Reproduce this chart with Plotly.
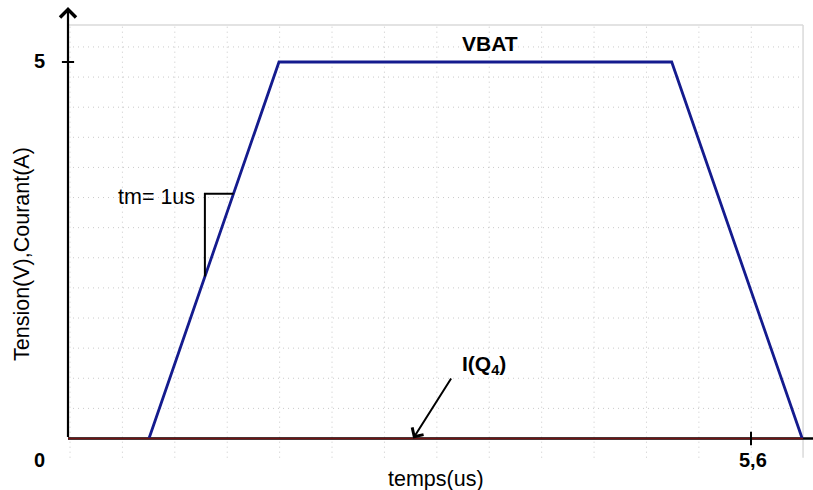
import numpy as np
import plotly.graph_objects as go

# --- data -------------------------------------------------------------
# VBAT trapezoid (time in us, voltage in V)
vbat_t = [0.664, 1.730, 4.950, 6.020]
vbat_v = [0.0, 5.0, 5.0, 0.0]

# I(Q4) stays at zero over the whole window
iq4_t = [0.0, 6.027]
iq4_i = [0.0, 0.0]

# rise-time marker levels on the rising edge (V)
tm_levels = [2.15, 3.25]

# labelled tick values
x_tick_vals = [5.6]
x_tick_text = ["5,6"]
y_tick_vals = [0, 5]
y_tick_text = ["0", "5"]

# --- frame ------------------------------------------------------------
X_RANGE = [-0.1066, 6.1085]
Y_RANGE = [-0.259, 5.797]
BOX_RIGHT = 6.027     # right edge of the grid box
BOX_TOP = 5.49        # top edge of the grid box
BOX_BOTTOM = -0.255
GRID_X = [0.0164 + 0.4297 * k for k in range(14)]
GRID_Y = [0.4 * k for k in range(1, 14)]

FONT = "Liberation Sans, Arial, sans-serif"
NAVY = "#141b8e"
GRID = "#c9c9c9"
DOTS = "1px,4px"

fig = go.Figure()

shapes = []
# dotted grid
for gx in GRID_X:
    shapes.append(dict(type="line", xref="x", yref="y", x0=gx, x1=gx,
                       y0=BOX_BOTTOM, y1=BOX_TOP, layer="below",
                       line=dict(color=GRID, width=1, dash=DOTS)))
for gy in GRID_Y:
    shapes.append(dict(type="line", xref="x", yref="y", x0=0, x1=BOX_RIGHT,
                       y0=gy, y1=gy, layer="below",
                       line=dict(color=GRID, width=1, dash=DOTS)))
# light box edges (top and right)
shapes.append(dict(type="line", xref="x", yref="y", x0=0, x1=BOX_RIGHT,
                   y0=BOX_TOP, y1=BOX_TOP, layer="below",
                   line=dict(color="#dadada", width=1.5)))
shapes.append(dict(type="line", xref="x", yref="y", x0=BOX_RIGHT, x1=BOX_RIGHT,
                   y0=BOX_BOTTOM, y1=BOX_TOP, layer="below",
                   line=dict(color="#dadada", width=1.5)))
# x axis line
shapes.append(dict(type="line", xref="x", yref="y", x0=0, x1=X_RANGE[1],
                   y0=0, y1=0, layer="below",
                   line=dict(color="black", width=2.4)))
# tick marks
for v in y_tick_vals[1:]:
    shapes.append(dict(type="line", xref="x", yref="y", x0=-0.05, x1=0.05,
                       y0=v, y1=v, line=dict(color="black", width=2)))
for t in x_tick_vals:
    shapes.append(dict(type="line", xref="x", yref="y", x0=t, x1=t,
                       y0=-0.09, y1=0.09, line=dict(color="black", width=2)))

# traces
fig.add_trace(go.Scatter(x=vbat_t, y=vbat_v, mode="lines",
                         line=dict(color=NAVY, width=2.8), hoverinfo="skip"))
fig.add_trace(go.Scatter(x=iq4_t, y=iq4_i, mode="lines",
                         line=dict(color="#701212", width=1.4), hoverinfo="skip"))

# rise-time triangle against the rising edge
rise_t = np.interp(tm_levels, vbat_v[:2], vbat_t[:2])
corner_t = rise_t[0]
fig.add_trace(go.Scatter(x=[rise_t[1], corner_t, corner_t],
                         y=[tm_levels[1], tm_levels[1], tm_levels[0]],
                         mode="lines", line=dict(color="black", width=2),
                         hoverinfo="skip"))

annotations = []
# y axis with arrow head
annotations.append(dict(x=0, y=5.73, xref="x", yref="y", ax=0, ay=0,
                        axref="x", ayref="y", showarrow=True, arrowhead=4,
                        arrowsize=1.4, arrowwidth=2.2, arrowcolor="black", text=""))
# tick labels (offset in pixels from the axis origin)
for v, s in zip(y_tick_vals, y_tick_text):
    annotations.append(dict(x=0, y=v, xref="x", yref="y", xshift=-28.5,
                            yshift=-21.5 if v == 0 else 1,
                            text=f"<b>{s}</b>", showarrow=False,
                            font=dict(family=FONT, size=20, color="black")))
for t, s in zip(x_tick_vals, x_tick_text):
    annotations.append(dict(x=t, y=0, xref="x", yref="y", xshift=2, yshift=-21.5,
                            text=f"<b>{s}</b>", showarrow=False,
                            font=dict(family=FONT, size=20, color="black")))
# axis titles
annotations.append(dict(x=3.017, y=0, xref="x", yref="y", yshift=-40.5,
                        text="temps(us)",
                        showarrow=False, font=dict(family=FONT, size=21.5, color="black")))
annotations.append(dict(x=0, y=2.45, xref="x", yref="y", xshift=-46,
                        text="Tension(V),Courant(A)", textangle=-90,
                        showarrow=False, font=dict(family=FONT, size=21.5, color="black")))
# series labels
annotations.append(dict(x=3.46, y=5.25, xref="x", yref="y", text="<b>VBAT</b>",
                        showarrow=False, font=dict(family=FONT, size=21, color="black")))
annotations.append(dict(x=3.41, y=0.98, xref="x", yref="y",
                        text="<b>I(Q<sub>4</sub>)</b>",
                        showarrow=False, font=dict(family=FONT, size=21, color="black")))
annotations.append(dict(x=2.83, y=0.0, xref="x", yref="y", ax=3.149, ay=0.817,
                        axref="x", ayref="y", showarrow=True, arrowhead=4,
                        arrowsize=1.3, arrowwidth=2, arrowcolor="black", text=""))
annotations.append(dict(x=1.058, y=3.207, xref="x", yref="y", text="tm= 1us",
                        xanchor="right", showarrow=False,
                        font=dict(family=FONT, size=21.5, color="black")))

fig.update_layout(
    width=813, height=490,
    margin=dict(l=55, r=0, t=2, b=32),
    paper_bgcolor="white", plot_bgcolor="white",
    showlegend=False,
    shapes=shapes, annotations=annotations,
    xaxis=dict(range=X_RANGE, showgrid=False, zeroline=False, showline=False,
               showticklabels=False, ticks="", fixedrange=True),
    yaxis=dict(range=Y_RANGE, showgrid=False, zeroline=False, showline=False,
               showticklabels=False, ticks="", fixedrange=True),
)

fig.write_html("out.html")
